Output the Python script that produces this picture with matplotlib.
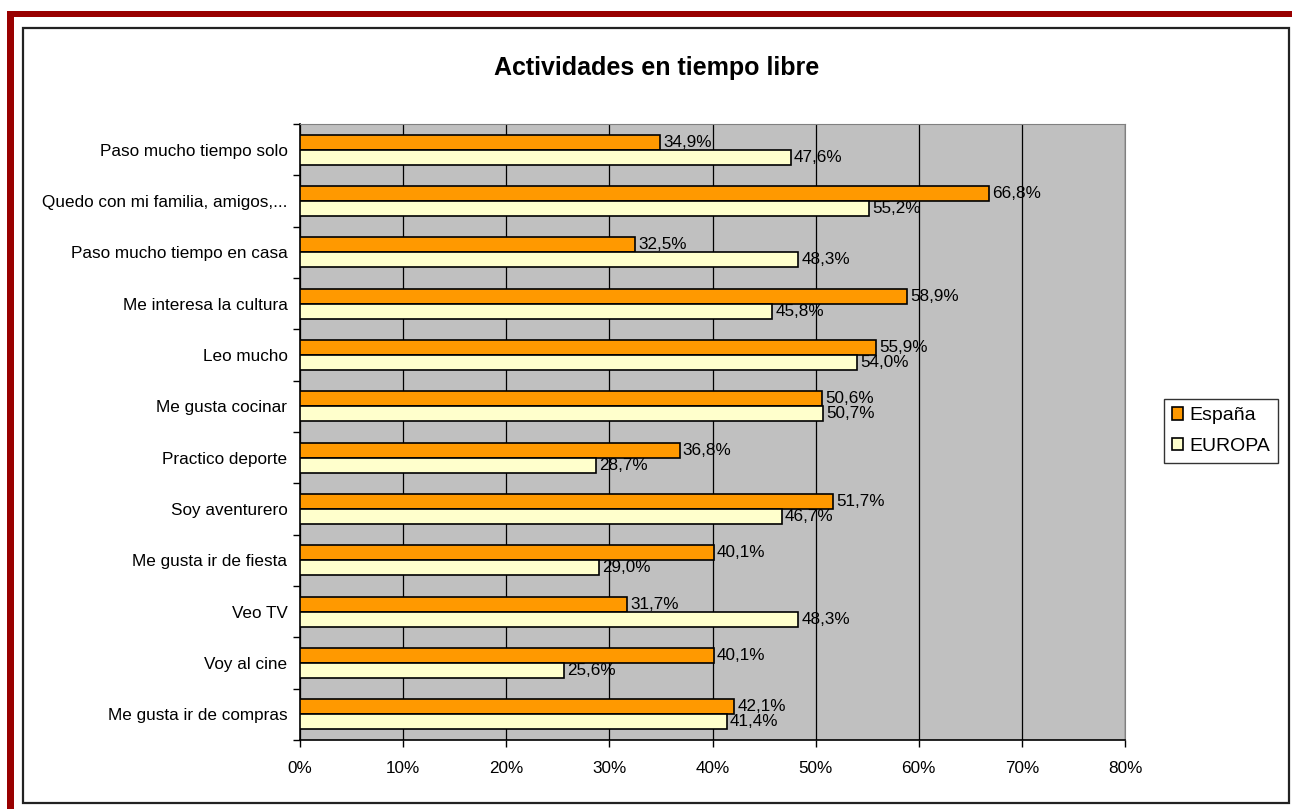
import matplotlib
matplotlib.use("Agg")
import matplotlib.pyplot as plt
import numpy as np
from matplotlib.patches import Rectangle

plt.rcParams['font.family'] = ['Liberation Sans', 'DejaVu Sans']

# datos (de arriba a abajo)
categorias = ["Paso mucho tiempo solo", "Quedo con mi familia, amigos,...",
              "Paso mucho tiempo en casa", "Me interesa la cultura", "Leo mucho",
              "Me gusta cocinar", "Practico deporte", "Soy aventurero",
              "Me gusta ir de fiesta", "Veo TV", "Voy al cine", "Me gusta ir de compras"]
espana = [34.9, 66.8, 32.5, 58.9, 55.9, 50.6, 36.8, 51.7, 40.1, 31.7, 40.1, 42.1]
europa = [47.6, 55.2, 48.3, 45.8, 54.0, 50.7, 28.7, 46.7, 29.0, 48.3, 25.6, 41.4]
series = ["España", "EUROPA"]
xticks = [0, 10, 20, 30, 40, 50, 60, 70, 80]

W, H = 1292, 809
fig = plt.figure(figsize=(W / 100, H / 100), dpi=100)
fig.patch.set_facecolor("white")

# marco rojo y marco negro
fig.patches.append(Rectangle((7 / W, 0), 7 / W, (H - 11) / H, transform=fig.transFigure,
                             facecolor="#990000", edgecolor="none"))
fig.patches.append(Rectangle((7 / W, 1 - 17 / H), (W - 7) / W, 6 / H, transform=fig.transFigure,
                             facecolor="#990000", edgecolor="none"))
fig.patches.append(Rectangle((22.5 / W, 1 - 802.5 / H), 1266 / W, 775 / H, transform=fig.transFigure,
                             facecolor="none", edgecolor="#222222", linewidth=1.6))

ax = fig.add_axes([300 / W, 1 - 740 / H, 825 / W, 616 / H])
ax.set_facecolor("#C0C0C0")

fs = 12.3
n = len(categorias)
y = np.arange(n)
h = 0.29
ax.barh(y - h / 2, espana, height=h, color="#FF9900", edgecolor="black", linewidth=1.2,
        label=series[0], zorder=3)
ax.barh(y + h / 2, europa, height=h, color="#FFFFCC", edgecolor="black", linewidth=1.2,
        label=series[1], zorder=3)

# etiquetas con coma decimal
for i in range(n):
    ax.text(espana[i] + 0.3, y[i] - h / 2, f"{espana[i]:.1f}%".replace(".", ","),
            va="center", ha="left", fontsize=fs, zorder=4)
    ax.text(europa[i] + 0.3, y[i] + h / 2, f"{europa[i]:.1f}%".replace(".", ","),
            va="center", ha="left", fontsize=fs, zorder=4)

ax.set_xlim(0, 80)
ax.set_ylim(n - 0.5, -0.5)
ax.set_xticks(xticks)
ax.set_xticklabels([f"{t}%" for t in xticks], fontsize=fs)
ax.set_yticks(y)
ax.set_yticklabels(categorias, fontsize=fs)
ax.set_yticks(np.arange(n + 1) - 0.5, minor=True)
ax.tick_params(axis="y", which="major", length=0, pad=9)
ax.tick_params(axis="y", which="minor", length=5, width=1)
ax.tick_params(axis="x", length=5, width=1, pad=10)
ax.xaxis.grid(True, color="black", linewidth=0.9, zorder=1)
ax.set_axisbelow(True)

for s in ["top", "right"]:
    ax.spines[s].set_color("#808080")
for s in ["left", "bottom"]:
    ax.spines[s].set_color("black")
    ax.spines[s].set_linewidth(1.2)

fig.text(657 / W, 1 - 68 / H, "Actividades en tiempo libre", ha="center", va="center",
         fontsize=18, fontweight="bold")

leg = ax.legend(loc="center left", bbox_to_anchor=((1164 - 300) / 825, (740 - 431) / 616),
                fontsize=14, frameon=True, fancybox=False, edgecolor="black",
                handlelength=0.6, handleheight=0.6, handletextpad=0.3, borderpad=0.4,
                labelspacing=0.7, borderaxespad=0)
leg.get_frame().set_linewidth(1.0)

fig.savefig("out.png", dpi=100)
